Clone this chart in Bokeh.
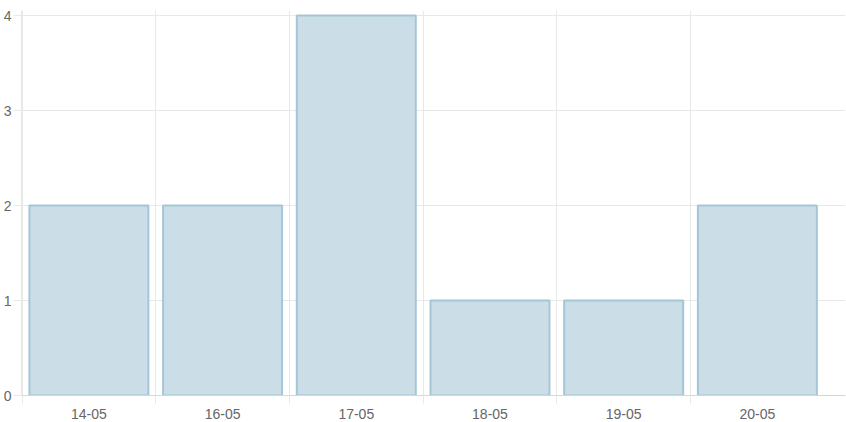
from bokeh.plotting import figure
from bokeh.models import Range1d, FixedTicker, ColumnDataSource
from bokeh.embed import file_html
from bokeh.resources import INLINE

categories = ["14-05", "16-05", "17-05", "18-05", "19-05", "20-05"]
counts = [2, 2, 4, 1, 1, 2]
y_ticks = [0, 1, 2, 3, 4]

centers = [i + 0.5 for i in range(len(categories))]
boundaries = list(range(len(categories)))

src = ColumnDataSource(dict(x=centers, top=counts))

W, H = 846, 422
left, right, top, bottom = 21, 1, 10, 27
frame_w = W - left - right
frame_h = H - top - bottom
cat_px = 133.7
y_px = 95.0

p = figure(width=W, height=H, output_backend="svg", toolbar_location=None,
           x_range=Range1d(-0.004, frame_w / cat_px - 0.004),
           y_range=Range1d(0, frame_h / y_px),
           min_border_left=left, min_border_right=right,
           min_border_top=top, min_border_bottom=bottom)
p.outline_line_color = None
p.background_fill_color = "white"
p.border_fill_color = "white"

p.vbar(x="x", top="top", bottom=0, width=0.89, source=src,
       fill_color="#cbdde7", line_color="#a4c6d6", line_width=2)

grid_col = "#e8e8e8"
# x axis
p.xaxis.ticker = FixedTicker(ticks=centers, minor_ticks=boundaries)
p.xaxis.major_label_overrides = {c: lab for c, lab in zip(centers, categories)}
p.xaxis.major_tick_out = 0
p.xaxis.major_tick_in = 0
p.xaxis.minor_tick_out = 8
p.xaxis.minor_tick_in = 0
p.xaxis.minor_tick_line_color = grid_col
p.xaxis.axis_line_color = "#d6d6d6"
p.xaxis.major_label_standoff = 5
p.xaxis.major_label_text_font = "Liberation Sans"
p.xaxis.major_label_text_font_size = "14px"
p.xaxis.major_label_text_color = "#666666"

# y axis
p.yaxis.ticker = FixedTicker(ticks=y_ticks)
p.yaxis.major_tick_out = 8
p.yaxis.major_tick_in = 0
p.yaxis.minor_tick_line_color = None
p.yaxis.major_tick_line_color = grid_col
p.yaxis.axis_line_color = grid_col
p.yaxis.major_label_standoff = 2
p.yaxis.major_label_text_font = "Liberation Sans"
p.yaxis.major_label_text_font_size = "14px"
p.yaxis.major_label_text_color = "#666666"

p.xgrid.ticker = FixedTicker(ticks=boundaries)
p.xgrid.grid_line_color = grid_col
p.ygrid.ticker = FixedTicker(ticks=y_ticks)
p.ygrid.grid_line_color = grid_col

html = file_html(p, INLINE)
html = html.replace("<head>", "<head><style>html,body{margin:0;padding:0;}</style>", 1)
open("out.html", "w").write(html)
